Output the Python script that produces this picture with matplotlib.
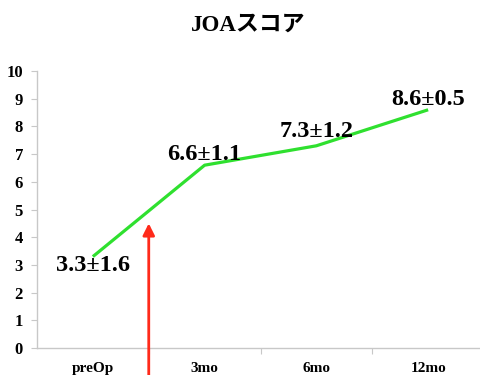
import matplotlib
matplotlib.use("Agg")
import matplotlib.pyplot as plt

categories = ["preOp", "3mo", "6mo", "12mo"]
means = [3.3, 6.6, 7.3, 8.6]
sds = [1.6, 1.1, 1.2, 0.5]
yticks = list(range(0, 11))
title = "JOAスコア"
surgery_marker_y = 4.5

serif = ["Liberation Serif", "Noto Sans CJK JP"]

fig = plt.figure(figsize=(4.81, 3.75), dpi=100)
ax = fig.add_axes([37 / 481, 27 / 375, 447 / 481, 277 / 375])

x = list(range(len(categories)))
ax.plot(x, means, color="#2fe02f", lw=2.3, solid_capstyle="butt", zorder=3)

label_offsets = [(0, -6.5), (0, 7.5), (0, 10), (0, 7.5)]
for xi, m, s, (dx, dy) in zip(x, means, sds, label_offsets):
    ax.annotate(f"{m}±{s}", (xi, m), xytext=(dx, dy), textcoords="offset points",
                ha="center", va="center", fontsize=17.5, fontweight="bold",
                family=serif, color="black", zorder=4)

ax.annotate("", xy=(0.5, surgery_marker_y), xytext=(0.5, -1.2),
            arrowprops=dict(arrowstyle="-|>,head_length=0.7,head_width=0.35",
                            color="#ff2a1a", lw=2.0, shrinkA=0, shrinkB=0),
            annotation_clip=False, zorder=5)

ax.set_xlim(-0.5, 3.5)
ax.set_ylim(0, 10)
ax.set_yticks(yticks)
ax.set_yticklabels([str(t) for t in yticks], family=serif, fontweight="bold", fontsize=12)
ax.set_xticks([0.5, 1.5, 2.5], minor=False)
ax.set_xticklabels([])
ax.set_xticks(x, minor=True)
ax.set_xticklabels(categories, minor=True, family=serif, fontweight="bold", fontsize=11)
ax.tick_params(axis="x", which="minor", length=0, pad=10)
ax.tick_params(axis="x", which="major", length=4, color="#c8c8c8", direction="out")
ax.tick_params(axis="y", length=4, color="#c8c8c8", pad=6)

for side in ["top", "right"]:
    ax.spines[side].set_visible(False)
for side in ["left", "bottom"]:
    ax.spines[side].set_color("#c8c8c8")
    ax.spines[side].set_linewidth(1.0)

fig.text(248 / 481, 1 - 25 / 375, title, ha="center", va="center",
         fontsize=16.5, fontweight="bold", family=serif)

fig.savefig("out.png", dpi=100)
